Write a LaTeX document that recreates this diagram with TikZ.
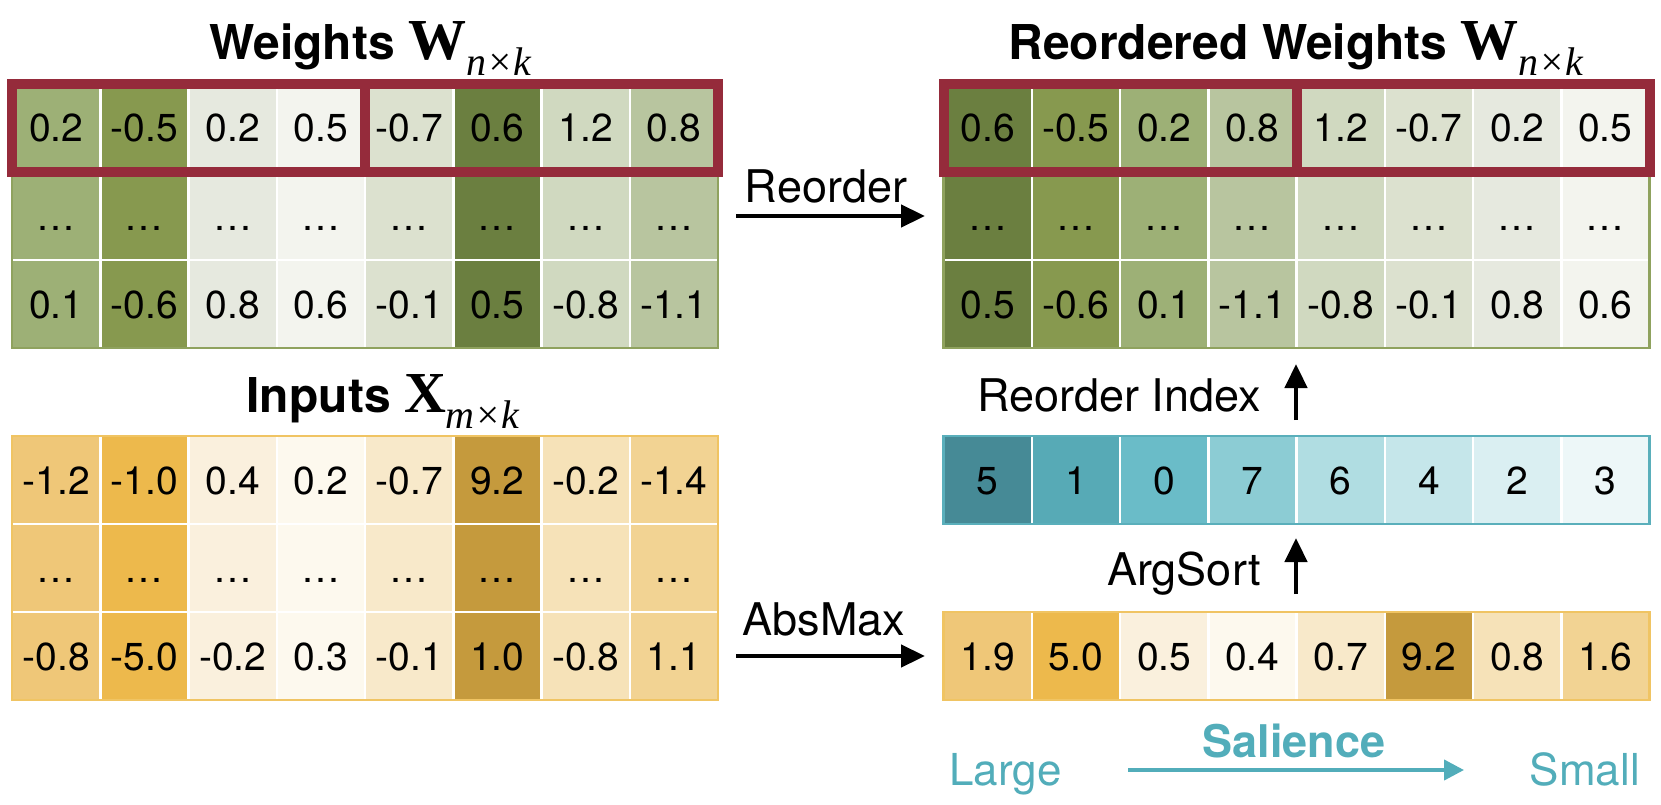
\documentclass[tikz,border=0pt]{standalone}
\usepackage{fontspec}
\setmainfont{TeX Gyre Heros}
\newfontfamily\serifW{Liberation Serif}
\usetikzlibrary{arrows.meta}
% green (weights), by salience rank
\definecolor{g1}{HTML}{6B7F40}
\definecolor{g2}{HTML}{87994F}
\definecolor{g3}{HTML}{9DB076}
\definecolor{g4}{HTML}{B8C59F}
\definecolor{g5}{HTML}{D0D9C0}
\definecolor{g6}{HTML}{DCE1CF}
\definecolor{g7}{HTML}{E6E9DF}
\definecolor{g8}{HTML}{F3F4EE}
% yellow (inputs)
\definecolor{y1}{HTML}{C59A3D}
\definecolor{y2}{HTML}{EDB94C}
\definecolor{y3}{HTML}{EFC778}
\definecolor{y4}{HTML}{F2D393}
\definecolor{y5}{HTML}{F6E2B8}
\definecolor{y6}{HTML}{F8E9CA}
\definecolor{y7}{HTML}{FAF0DD}
\definecolor{y8}{HTML}{FDF9EE}
% teal (index)
\definecolor{t1}{HTML}{468A96}
\definecolor{t2}{HTML}{57AAB6}
\definecolor{t3}{HTML}{6ABCC8}
\definecolor{t4}{HTML}{8CCCD4}
\definecolor{t5}{HTML}{B0DDE2}
\definecolor{t6}{HTML}{C5E6EA}
\definecolor{t7}{HTML}{DAEFF2}
\definecolor{t8}{HTML}{EDF7F8}
\definecolor{gborder}{HTML}{8FA25E}
\definecolor{yborder}{HTML}{F0C463}
\definecolor{tborder}{HTML}{5AAFBB}
\definecolor{redbox}{HTML}{952B3B}
\definecolor{salteal}{HTML}{52ADBA}
\newcommand\Mat[2]{{\serifW\fontsize{58}{58}\selectfont\bfseries #1}\raisebox{-16pt}{\normalfont\serifW\itshape\fontsize{40}{40}\selectfont #2}}
\tikzset{
  cell/.style={minimum width=88.25pt, minimum height=88pt, inner sep=0pt, outer sep=0pt,
    draw=white, line width=2.5pt, text height=28pt, text depth=0pt,
    font=\fontsize{39}{40}\selectfont},
  lbl/.style={font=\fontsize{45}{46}\selectfont, inner sep=0pt},
  ttl/.style={font=\fontsize{48}{50}\selectfont\bfseries, inner sep=0pt},
  arr/.style={line width=4.5pt, -{Triangle[length=24pt,width=22pt]}},
  tarr/.style={line width=4pt, draw=salteal, -{Triangle[length=20pt,width=20pt]}},
  redframe/.style={draw=redbox, line width=10pt},
}
\begin{document}
\begin{tikzpicture}[x=1pt,y=-1pt]
\useasboundingbox (0,0) rectangle (1661,805);
\fill[white] (0,0) rectangle (1661,805);

% ---------- left weights ----------
\foreach \c/\rk/\a/\b in {1/3/0.2/0.1, 2/2/-0.5/-0.6, 3/7/0.2/0.8, 4/8/0.5/0.6,
                          5/6/-0.7/-0.1, 6/1/0.6/0.5, 7/5/1.2/-0.8, 8/4/0.8/-1.1}{
  \node[cell, fill=g\rk] (w-1-\c) at ({12+(\c-0.5)*88.25},128) {\a};
  \node[cell, fill=g\rk] (w-2-\c) at ({12+(\c-0.5)*88.25},216) {…};
  \node[cell, fill=g\rk] (w-3-\c) at ({12+(\c-0.5)*88.25},304) {\b};
}
\draw[gborder, line width=2.5pt] (w-1-1.north west) rectangle (w-3-8.south east);
\draw[redframe] (w-1-1.north west) rectangle (w-1-8.south east);
\draw[redframe] (w-1-4.north east) -- (w-1-4.south east);

% ---------- inputs ----------
\foreach \c/\rk/\a/\b in {1/3/-1.2/-0.8, 2/2/-1.0/-5.0, 3/7/0.4/-0.2, 4/8/0.2/0.3,
                          5/6/-0.7/-0.1, 6/1/9.2/1.0, 7/5/-0.2/-0.8, 8/4/-1.4/1.1}{
  \node[cell, fill=y\rk] (x-1-\c) at ({12+(\c-0.5)*88.25},480) {\a};
  \node[cell, fill=y\rk] (x-2-\c) at ({12+(\c-0.5)*88.25},568) {…};
  \node[cell, fill=y\rk] (x-3-\c) at ({12+(\c-0.5)*88.25},656) {\b};
}
\draw[yborder, line width=2.5pt] (x-1-1.north west) rectangle (x-3-8.south east);

% ---------- reordered weights ----------
\foreach \c/\a/\b in {1/0.6/0.5, 2/-0.5/-0.6, 3/0.2/0.1, 4/0.8/-1.1,
                      5/1.2/-0.8, 6/-0.7/-0.1, 7/0.2/0.8, 8/0.5/0.6}{
  \node[cell, fill=g\c] (rw-1-\c) at ({943.5+(\c-0.5)*88.25},128) {\a};
  \node[cell, fill=g\c] (rw-2-\c) at ({943.5+(\c-0.5)*88.25},216) {…};
  \node[cell, fill=g\c] (rw-3-\c) at ({943.5+(\c-0.5)*88.25},304) {\b};
}
\draw[gborder, line width=2.5pt] (rw-1-1.north west) rectangle (rw-3-8.south east);
\draw[redframe] (rw-1-1.north west) rectangle (rw-1-8.south east);
\draw[redframe] (rw-1-4.north east) -- (rw-1-4.south east);

% ---------- reorder index ----------
\foreach \c/\v in {1/5, 2/1, 3/0, 4/7, 5/6, 6/4, 7/2, 8/3}{
  \node[cell, fill=t\c] (idx-\c) at ({943.5+(\c-0.5)*88.25},480) {\v};
}
\draw[tborder, line width=2.5pt] (idx-1.north west) rectangle (idx-8.south east);

% ---------- absmax ----------
\foreach \c/\rk/\v in {1/3/1.9, 2/2/5.0, 3/7/0.5, 4/8/0.4, 5/6/0.7, 6/1/9.2, 7/5/0.8, 8/4/1.6}{
  \node[cell, fill=y\rk] (am-\c) at ({943.5+(\c-0.5)*88.25},656) {\v};
}
\draw[yborder, line width=2.5pt] (am-1.north west) rectangle (am-8.south east);

% ---------- titles ----------
\node[ttl, anchor=base] (t-w) at (370,60) {Weights \Mat{W}{n×k}};
\node[ttl, anchor=base] (t-rw) at (1296,60) {Reordered Weights \Mat{W}{n×k}};
\node[ttl, anchor=base] (t-x) at (383,412) {Inputs \Mat{X}{m×k}};

% ---------- arrows and labels ----------
\coordinate (ra) at (736,216);
\coordinate (rb) at (925,216);
\draw[arr] (ra) -- (rb);
\node[lbl, anchor=base] (l-reorder) at (826,203) {Reorder};

\coordinate (aa) at (736,656);
\coordinate (ab) at (925,656);
\draw[arr] (aa) -- (ab);
\node[lbl, anchor=base] (l-absmax) at (824,635) {AbsMax};

\coordinate (sa) at (1296,594);
\coordinate (sb) at (1296,538);
\draw[arr] (sa) -- (sb);
\node[lbl, anchor=base east] (l-argsort) at (1261,585) {ArgSort};

\coordinate (ia) at (1296,420);
\coordinate (ib) at (1296,364);
\draw[arr] (ia) -- (ib);
\node[lbl, anchor=base east] (l-index) at (1261,411) {Reorder Index};

% ---------- salience ----------
\node[lbl, font=\fontsize{45}{46}\selectfont\bfseries, text=salteal, anchor=base] (l-sal) at (1294,757) {Salience};
\node[lbl, font=\fontsize{44}{45}\selectfont, text=salteal, anchor=base west] (l-large) at (949,785) {Large};
\node[lbl, font=\fontsize{44}{45}\selectfont, text=salteal, anchor=base east] (l-small) at (1640,785) {Small};
\coordinate (ta) at (1128,770);
\coordinate (tb) at (1464,770);
\draw[tarr] (ta) -- (tb);
\end{tikzpicture}
\end{document}
